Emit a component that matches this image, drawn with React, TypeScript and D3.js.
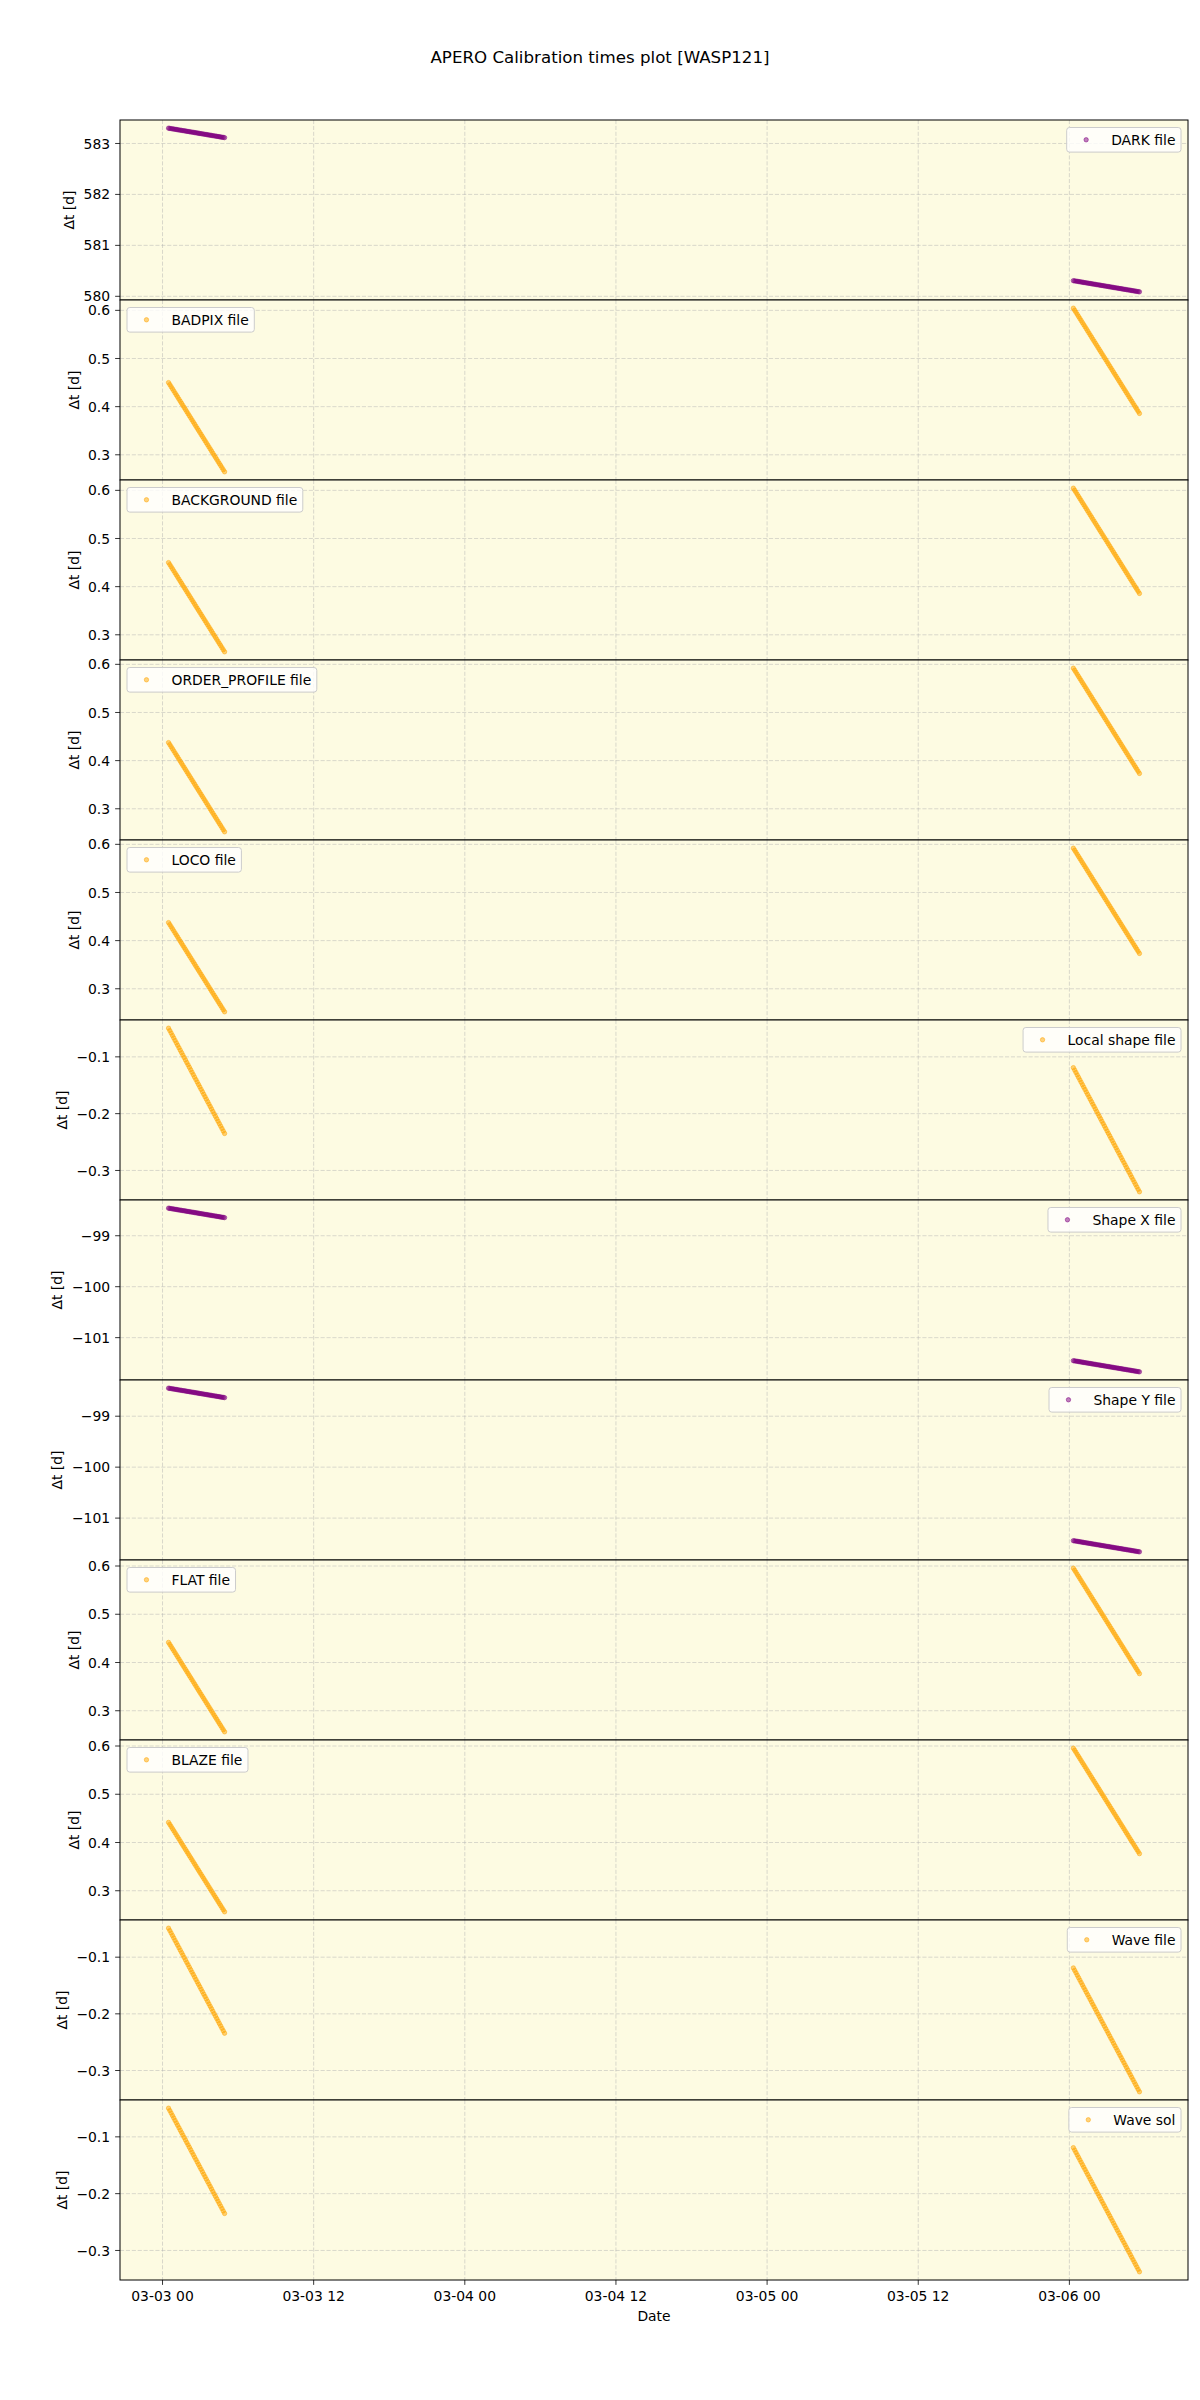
import React from 'react';
import * as d3 from 'd3';

// ---------------- data ----------------
const TITLE = 'APERO Calibration times plot [WASP121]';
const X_LABEL = 'Date';
const Y_LABEL = 'Δt [d]';

const panelLabels = [
  'DARK file', 'BADPIX file', 'BACKGROUND file', 'ORDER_PROFILE file', 'LOCO file',
  'Local shape file', 'Shape X file', 'Shape Y file', 'FLAT file', 'BLAZE file',
  'Wave file', 'Wave sol',
];
const panelColors = [
  'purple', 'orange', 'orange', 'orange', 'orange',
  'orange', 'purple', 'purple', 'orange', 'orange',
  'orange', 'orange',
];
const legendSide = [
  'right', 'left', 'left', 'left', 'left',
  'right', 'right', 'right', 'left', 'left',
  'right', 'right',
];

// observation nights (UTC dates) and exposure times in minutes after midnight
const night1Date = [2023, 2, 3];
const night2Date = [2023, 2, 6];
const night1Minutes = [
  28.7, 34.8, 41.0, 47.3, 53.4, 59.7, 65.9, 72.0, 78.3, 84.5, 90.7, 96.9, 103.1, 109.3,
  115.6, 121.7, 127.9, 134.2, 140.4, 146.5, 152.8, 159.0, 165.2, 171.4, 177.6, 183.8,
  190.0, 196.3, 202.4, 208.6, 214.9, 221.1, 227.3, 233.4, 239.7, 245.9, 252.1, 258.3,
  264.5, 270.7, 276.9, 283.2, 289.4, 295.6,
];
const night2Minutes = [
  19.0, 25.2, 31.3, 37.5, 43.7, 49.9, 56.0, 62.2, 68.4, 74.5, 80.7, 86.9, 93.1, 99.2,
  105.4, 111.6, 117.7, 123.9, 130.1, 136.3, 142.4, 148.6, 154.8, 160.9, 167.1, 173.3,
  179.5, 185.6, 191.8, 198.0, 204.1, 210.3, 216.5, 222.7, 228.8, 235.0, 241.2, 247.3,
  253.5, 259.7, 265.9, 272.0, 278.2, 284.4, 290.5, 296.7, 302.9, 309.1, 315.2, 321.4,
  327.6, 333.8,
];

// calibration file time used for each night, in days relative to 03-03 00:00
const calNight1 = [583.32, 0.4699, 0.4699, 0.4574, 0.4574, -0.0296, -98.439, -98.43, 0.4616, 0.4616, -0.0289, -0.0296];
const calNight2 = [583.32, 3.6177, 3.6177, 3.6052, 3.6052, 2.8942, -98.439, -98.43, 3.6087, 3.6087, 2.8942, 2.8942];

const yTickValues = [
  [580, 581, 582, 583],
  [0.3, 0.4, 0.5, 0.6],
  [0.3, 0.4, 0.5, 0.6],
  [0.3, 0.4, 0.5, 0.6],
  [0.3, 0.4, 0.5, 0.6],
  [-0.3, -0.2, -0.1],
  [-101, -100, -99],
  [-101, -100, -99],
  [0.3, 0.4, 0.5, 0.6],
  [0.3, 0.4, 0.5, 0.6],
  [-0.3, -0.2, -0.1],
  [-0.3, -0.2, -0.1],
];

// ---------------- layout ----------------
const W = 1200;
const H = 2400;
const LEFT = 120;
const RIGHT = 1188;
const TOP = 120;
const PH = 180;
const FS = 13.9;
const FONT = '"DejaVu Sans", "Liberation Sans", sans-serif';
const TICK = 4.86;

let measureCtx: CanvasRenderingContext2D | null = null;
function textWidth(s: string, size = FS): number {
  if (!measureCtx) measureCtx = document.createElement('canvas').getContext('2d');
  if (!measureCtx) return s.length * size * 0.6;
  measureCtx.font = `${size}px "DejaVu Sans"`;
  return measureCtx.measureText(s).width;
}

function fmtTick(v: number): string {
  const r = Math.round(v * 10) / 10;
  const s = Number.isInteger(r) ? String(Math.abs(r)) : Math.abs(r).toFixed(1);
  return (r < 0 ? '\u2212' : '') + s;
}

const DAY = 86400000;
const base1 = Date.UTC(night1Date[0], night1Date[1], night1Date[2]);
const base2 = Date.UTC(night2Date[0], night2Date[1], night2Date[2]);
const obsTimes1 = night1Minutes.map((m) => base1 + m * 60000);
const obsTimes2 = night2Minutes.map((m) => base2 + m * 60000);

export default function App() {
  const allTimes = [...obsTimes1, ...obsTimes2];
  const [tmin, tmax] = d3.extent(allTimes) as [number, number];
  const tpad = (tmax - tmin) * 0.05;
  const x = d3.scaleUtc().domain([new Date(tmin - tpad), new Date(tmax + tpad)]).range([LEFT, RIGHT]);
  const xTicks = x.ticks(d3.utcHour.every(12) as d3.CountableTimeInterval);
  const xFmt = d3.utcFormat('%m-%d %H');

  const panels = panelLabels.map((label, i) => {
    const pts1 = obsTimes1.map((t) => ({ t, dt: calNight1[i] - (t - base1) / DAY }));
    const pts2 = obsTimes2.map((t) => ({ t, dt: calNight2[i] - (t - base1) / DAY }));
    const pts = [...pts1, ...pts2];
    const [ymin, ymax] = d3.extent(pts, (p) => p.dt) as [number, number];
    const ypad = (ymax - ymin) * 0.05;
    const top = TOP + i * PH;
    const y = d3.scaleLinear().domain([ymin - ypad, ymax + ypad]).range([top + PH, top]);
    return { label, i, pts, y, top };
  });

  const bottom = TOP + panelLabels.length * PH;

  return (
    <svg
      width={W}
      height={H}
      viewBox={`0 0 ${W} ${H}`}
      style={{ position: 'absolute', left: 0, top: 0, background: '#ffffff' }}
      fontFamily={FONT}
    >
      <rect x={0} y={0} width={W} height={H} fill="#ffffff" />
      <text x={W / 2} y={62.5} textAnchor="middle" fontSize={16.67} fill="#000">
        {TITLE}
      </text>

      {panels.map(({ label, i, pts, y, top }) => {
        const color = panelColors[i];
        const ticks = yTickValues[i];
        const tickLabels = ticks.map(fmtTick);
        const maxW = Math.max(...tickLabels.map((s) => textWidth(s)));
        const labelX = LEFT - TICK - 5 - maxW - 9.5;
        const legTextW = textWidth(label);
        const legW = 5.56 + 27.8 + 11.1 + legTextW + 5.56;
        const legH = 24.6;
        const legX = legendSide[i] === 'right' ? RIGHT - 7 - legW : LEFT + 7;
        const legY = top + 7.5;
        const clipId = `clip${i}`;
        return (
          <g key={i}>
            <defs>
              <clipPath id={clipId}>
                <rect x={LEFT} y={top} width={RIGHT - LEFT} height={PH} />
              </clipPath>
            </defs>
            <rect x={LEFT} y={top} width={RIGHT - LEFT} height={PH} fill="#fdfbe2" />
            <g clipPath={`url(#${clipId})`}>
              {xTicks.map((t, k) => (
                <line
                  key={`gx${k}`}
                  x1={x(t)}
                  x2={x(t)}
                  y1={top}
                  y2={top + PH}
                  stroke="#b0b0b0"
                  strokeOpacity={0.6}
                  strokeWidth={0.8}
                  strokeDasharray="4.1,1.8"
                />
              ))}
              {ticks.map((v, k) => (
                <line
                  key={`gy${k}`}
                  x1={LEFT}
                  x2={RIGHT}
                  y1={y(v)}
                  y2={y(v)}
                  stroke="#b0b0b0"
                  strokeOpacity={0.6}
                  strokeWidth={0.8}
                  strokeDasharray="4.1,1.8"
                />
              ))}
              {pts.map((p, k) => (
                <circle
                  key={k}
                  cx={x(new Date(p.t))}
                  cy={y(p.dt)}
                  r={2.2}
                  fill={color}
                  fillOpacity={0.5}
                  stroke={color}
                  strokeOpacity={0.5}
                  strokeWidth={1}
                />
              ))}
            </g>
            {/* legend */}
            <rect
              x={legX}
              y={legY}
              width={legW}
              height={legH}
              rx={2.8}
              fill="#ffffff"
              fillOpacity={0.8}
              stroke="#cccccc"
              strokeWidth={1}
            />
            <circle
              cx={legX + 5.56 + 13.9}
              cy={legY + legH / 2}
              r={2.2}
              fill={color}
              fillOpacity={0.5}
              stroke={color}
              strokeOpacity={0.5}
              strokeWidth={1}
            />
            <text x={legX + 5.56 + 27.8 + 11.1} y={legY + legH / 2 + 5.07} fontSize={FS} fill="#000">
              {label}
            </text>
            {/* frame */}
            <rect x={LEFT} y={top} width={RIGHT - LEFT} height={PH} fill="none" stroke="#000" strokeWidth={1} />
            {/* y ticks */}
            {ticks.map((v, k) => (
              <g key={`yt${k}`}>
                <line x1={LEFT - TICK} x2={LEFT} y1={y(v)} y2={y(v)} stroke="#000" strokeWidth={0.8} />
                <text x={LEFT - TICK - 5} y={y(v) + 5.07} textAnchor="end" fontSize={FS} fill="#000">
                  {tickLabels[k]}
                </text>
              </g>
            ))}
            <text
              transform={`translate(${labelX},${top + PH / 2}) rotate(-90)`}
              textAnchor="middle"
              fontSize={FS}
              fill="#000"
            >
              {Y_LABEL}
            </text>
          </g>
        );
      })}

      {/* x axis */}
      {xTicks.map((t, k) => (
        <g key={`xt${k}`}>
          <line x1={x(t)} x2={x(t)} y1={bottom} y2={bottom + TICK} stroke="#000" strokeWidth={0.8} />
          <text x={x(t)} y={bottom + 21} textAnchor="middle" fontSize={FS} fill="#000">
            {xFmt(t)}
          </text>
        </g>
      ))}
      <text x={(LEFT + RIGHT) / 2} y={bottom + 41} textAnchor="middle" fontSize={FS} fill="#000">
        {X_LABEL}
      </text>
    </svg>
  );
}
